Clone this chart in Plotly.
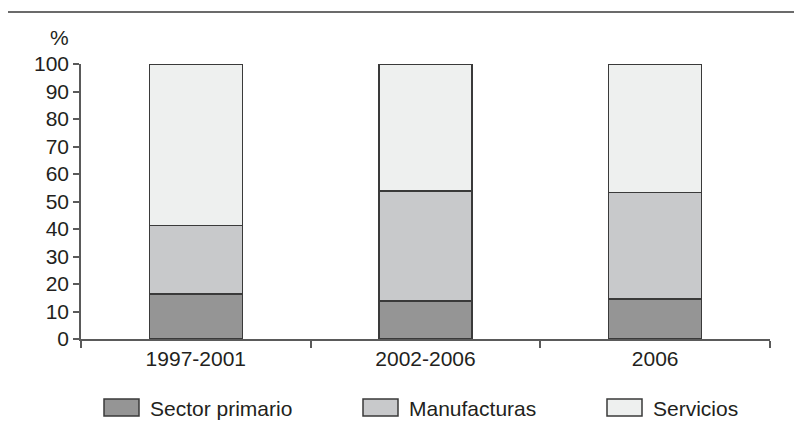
import plotly.graph_objects as go

categories = ["1997-2001", "2002-2006", "2006"]
series_names = ["Sector primario", "Manufacturas", "Servicios"]
primario = [16.3, 13.8, 14.5]
manufacturas = [25.0, 40.0, 38.8]
servicios = [58.7, 46.2, 46.7]
colors = ["#959595", "#c8c9cb", "#eef0ef"]
y_ticks = list(range(0, 101, 10))

W, H = 794, 426
ML, MR, MT, MB = 81, 24, 64, 87
PW, PH = W - ML - MR, H - MT - MB

def px_x(x):
    return (x - ML) / PW

def px_y(y):
    return (H - MB - y) / PH

FONT = "Liberation Sans, Arial, sans-serif"
FS = 21
TXT = "#231f20"
OUTLINE = "#3a3a3a"

fig = go.Figure()
for name, vals, col in zip(series_names, [primario, manufacturas, servicios], colors):
    fig.add_trace(go.Bar(
        x=categories, y=vals, name=name,
        marker=dict(color=col, line=dict(color=OUTLINE, width=1.5)),
        width=0.405, showlegend=False,
    ))

fig.update_layout(
    barmode="stack",
    width=W, height=H,
    margin=dict(l=ML, r=MR, t=MT, b=MB),
    paper_bgcolor="white", plot_bgcolor="white",
    font=dict(family=FONT, size=FS, color=TXT),
    xaxis=dict(
        range=[-0.5, 2.5], showline=True, linecolor="#5a5a5a", linewidth=1.5,
        ticks="outside", tickson="boundaries", ticklen=7, tickcolor="#5a5a5a",
        tickwidth=1.5, showgrid=False, zeroline=False,
        tickfont=dict(size=FS, family=FONT, color=TXT),
    ),
    yaxis=dict(
        range=[0, 100], tickvals=y_ticks, showline=True, linecolor="#5a5a5a",
        linewidth=1.5, ticks="outside", ticklen=6, tickcolor="#5a5a5a", tickwidth=1.5,
        showgrid=False, zeroline=False,
        tickfont=dict(size=FS, family=FONT, color=TXT),
    ),
)

shapes = []
annotations = []
# top rule
shapes.append(dict(type="line", xref="paper", yref="paper",
                   x0=px_x(8), x1=px_x(794), y0=px_y(12), y1=px_y(12),
                   line=dict(color="#3a3a3a", width=1.5)))
# % label
annotations.append(dict(text="%", xref="paper", yref="paper",
                        x=px_x(59), y=px_y(37), xanchor="center", yanchor="middle",
                        showarrow=False, font=dict(size=FS, family=FONT, color=TXT)))
# manual legend
legend_box_x = [104, 363, 607]
for name, col, bx in zip(series_names, colors, legend_box_x):
    shapes.append(dict(type="rect", xref="paper", yref="paper",
                       x0=px_x(bx), x1=px_x(bx + 35), y0=px_y(399), y1=px_y(416),
                       fillcolor=col, line=dict(color=OUTLINE, width=1.5)))
    annotations.append(dict(text=name, xref="paper", yref="paper",
                            x=px_x(bx + 44), y=px_y(408), xanchor="left", yanchor="middle",
                            showarrow=False, font=dict(size=FS, family=FONT, color=TXT)))

fig.update_layout(shapes=shapes, annotations=annotations)
fig.write_html("out.html")
